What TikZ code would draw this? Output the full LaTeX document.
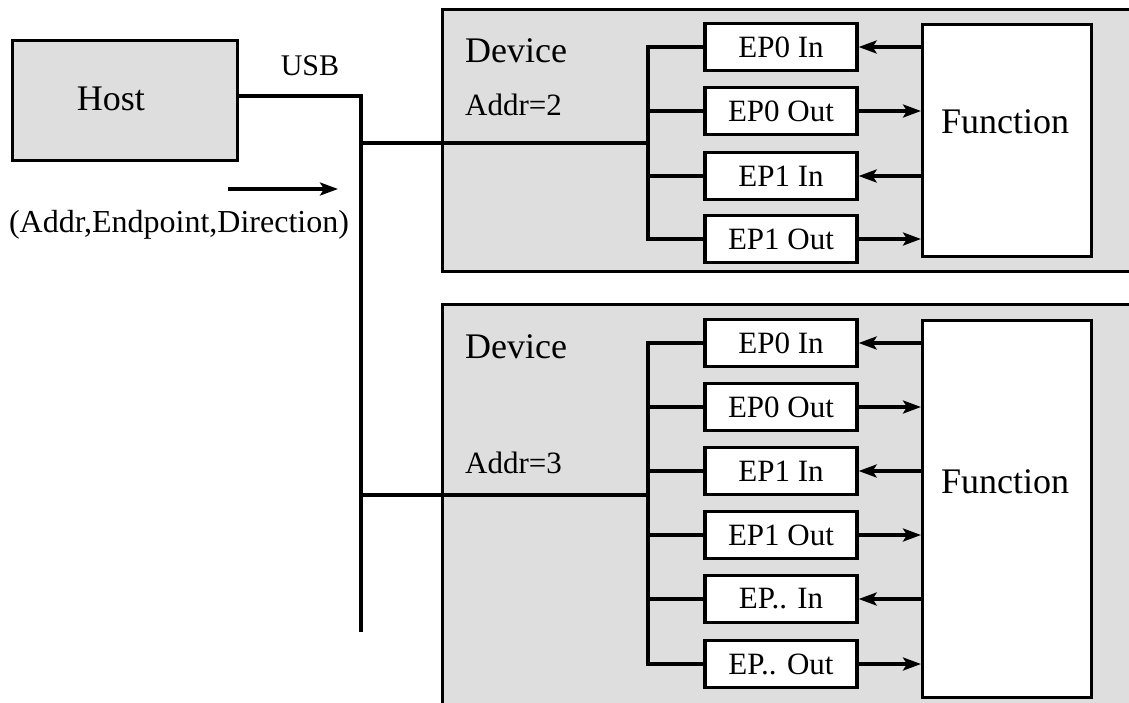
\documentclass[tikz,border=0pt]{standalone}
\usepackage{fontspec}
\setmainfont{Liberation Serif}
\usetikzlibrary{arrows.meta}
\definecolor{boxgray}{HTML}{DEDEDE}
\tikzset{
  px/.style={x=1pt,y=-1pt},
  ln/.style={line width=3.3pt},
  arr/.style={ln,-{Stealth[length=18pt,width=13pt,inset=4pt]}},
  graybox/.style={draw,line width=3.3pt,fill=boxgray,inner sep=0pt,anchor=north west},
  epbox/.style={draw,line width=3.3pt,fill=white,inner sep=0pt,minimum width=152pt,minimum height=47pt,font=\fontsize{31}{34}\selectfont},
  funcbox/.style={draw,line width=3.3pt,fill=white,inner sep=0pt,anchor=north west,minimum width=169pt},
  big/.style={font=\fontsize{36}{40}\selectfont,inner sep=0pt},
  mid/.style={font=\fontsize{31}{34}\selectfont,inner sep=0pt},
}
\begin{document}
\begin{tikzpicture}[px]
\useasboundingbox (0,0) rectangle (1129,702);
\begin{scope}
\clip (0,0) rectangle (1129,702);
% device frames
\node[graybox,minimum width=700pt,minimum height=262pt] (dev1) at (441,8) {};
\node[graybox,minimum width=700pt,minimum height=420pt] (dev2) at (441,303) {};
\end{scope}
% host
\node[graybox,minimum width=225pt,minimum height=120pt] (host) at (11,39) {};
\node[big,anchor=base] (hostt) at (111,110) {Host};
\node[mid,anchor=base,font=\fontsize{30}{33}\selectfont] (usb) at (310,75) {USB};
\node[mid,anchor=base,font=\fontsize{32}{35}\selectfont] (lab) at (179,232) {(Addr,Endpoint,Direction)};
\coordinate (a1) at (228,189);
\coordinate (a2) at (338,189);
\draw[arr] (a1) -- (a2);
% USB bus
\coordinate (usbtop) at (361,96);
\coordinate (usbbot) at (361,632);
\coordinate (j1) at (361,143);
\coordinate (j2) at (361,495);
\draw[ln] (236,96) -- (usbtop) -- (usbbot);
% device labels
\node[big,anchor=base west] (d1t) at (465,62) {Device};
\node[mid,anchor=base west] (d1a) at (465,115) {Addr=2};
\node[big,anchor=base west] (d2t) at (465,358) {Device};
\node[mid,anchor=base west] (d2a) at (465,473) {Addr=3};
% function boxes
\node[funcbox,minimum height=232pt] (f1) at (921,23) {};
\node[big,anchor=base] (f1t) at (1005,133) {Function};
\node[funcbox,minimum height=377pt] (f2) at (921,319) {};
\node[big,anchor=base] (f2t) at (1005,493) {Function};
% endpoints device 1
\node[epbox] (e10i) at (781,47) {EP0 In};
\node[epbox] (e10o) at (781,111) {EP0 Out};
\node[epbox] (e11i) at (781,176) {EP1 In};
\node[epbox] (e11o) at (781,239) {EP1 Out};
% endpoints device 2
\node[epbox] (e20i) at (781,343) {EP0 In};
\node[epbox] (e20o) at (781,407) {EP0 Out};
\node[epbox] (e21i) at (781,471) {EP1 In};
\node[epbox] (e21o) at (781,535) {EP1 Out};
\node[epbox] (e2xi) at (781,599) {EP.. In};
\node[epbox] (e2xo) at (781,664) {EP.. Out};
% bus inside devices
\coordinate (b1t) at (648,47);
\coordinate (b1b) at (648,239);
\coordinate (b2t) at (648,343);
\coordinate (b2b) at (648,664);
\draw[ln] (j1) -- (j1 -| b1t);
\draw[ln] (j2) -- (j2 -| b2t);
\draw[ln] (e10i.west) -- (b1t) -- (b1b) -- (e11o.west);
\draw[ln] (b1t |- e10o) -- (e10o.west);
\draw[ln] (b1t |- e11i) -- (e11i.west);
\draw[ln] (e20i.west) -- (b2t) -- (b2b) -- (e2xo.west);
\foreach \n in {e20o,e21i,e21o,e2xi} \draw[ln] (b2t |- \n) -- (\n.west);
% arrows
\draw[arr] (f1.west |- e10i) -- (e10i.east);
\draw[arr] (e10o.east) -- (f1.west |- e10o);
\draw[arr] (f1.west |- e11i) -- (e11i.east);
\draw[arr] (e11o.east) -- (f1.west |- e11o);
\draw[arr] (f2.west |- e20i) -- (e20i.east);
\draw[arr] (e20o.east) -- (f2.west |- e20o);
\draw[arr] (f2.west |- e21i) -- (e21i.east);
\draw[arr] (e21o.east) -- (f2.west |- e21o);
\draw[arr] (f2.west |- e2xi) -- (e2xi.east);
\draw[arr] (e2xo.east) -- (f2.west |- e2xo);
\end{tikzpicture}
\end{document}
